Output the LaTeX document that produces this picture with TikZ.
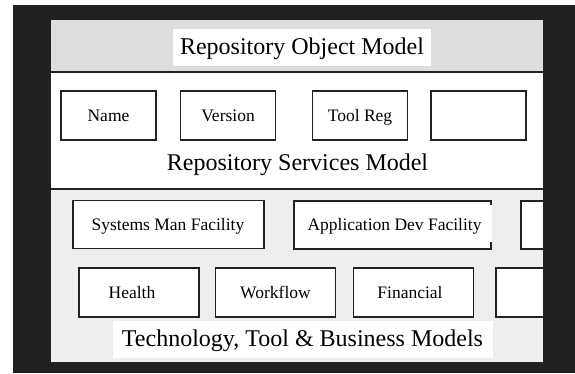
\documentclass[tikz,border=0pt]{standalone}
\usepackage{fontspec}
\setmainfont{Liberation Serif}
\definecolor{framec}{HTML}{202020}
\definecolor{topband}{HTML}{DDDDDD}
\definecolor{botband}{HTML}{EEEEEE}
\definecolor{linec}{HTML}{222222}
\begin{document}
\begin{tikzpicture}[x=1bp,y=-1bp,
  box/.style={draw=linec, line width=1.1bp, fill=white, inner sep=0pt,
    font=\fontsize{17.5bp}{20bp}\selectfont, text height=11.6bp, text depth=0bp},
  bw/.style={minimum width=95bp, minimum height=49bp},
  fw/.style={minimum width=197bp, minimum height=48bp},
  hw/.style={minimum width=120bp, minimum height=49bp},
  wlabel/.style={fill=white, inner sep=0pt},
  bigtext/.style={font=\fontsize{24bp}{28bp}\selectfont, anchor=base, inner sep=0pt},
  smalltext/.style={font=\fontsize{17.5bp}{20bp}\selectfont, anchor=base, inner sep=0pt}]
\useasboundingbox (0,0) rectangle (575,373);
\fill[white] (0,0) rectangle (575,373);
\fill[framec] (13,5) rectangle (575,373);
% bands
\fill[topband] (50,19) rectangle (544,72);
\fill[white] (50,72) rectangle (544,189);
\fill[botband] (50,189) rectangle (544,363);
% title
\node[wlabel, minimum width=258bp, minimum height=37bp] (titlebox) at (302,47.5) {};
\node[bigtext] (title) at (302,54) {Repository Object Model};
% row 1
\node[box,bw] (name) at (108.5,115.5) {Name};
\node[box,bw] (version) at (228,115.5) {Version};
\node[box,bw] (toolreg) at (360,115.5) {Tool Reg};
\node[box,bw] (empty1) at (478.5,115.5) {};
\node[bigtext] (services) at (297.5,170) {Repository Services Model};
% row 2
\begin{scope}
\clip (50,189) rectangle (544,363);
\node[box,fw,minimum width=191bp] (sysman) at (168.5,224.5) {};
\node[smalltext] at (168,230.8) {Systems Man Facility};
\node[box,fw] (appdev) at (392.5,225) {};
\node[wlabel, minimum width=195bp, minimum height=37bp] (appdevlbl) at (394.5,223.5) {};
\node[smalltext] at (394.5,230.8) {Application Dev Facility};
\node[box,fw] (r2c) at (619.5,225) {};
% row 3
\node[box,hw] (health) at (139,292.5) {};
\node[smalltext] at (132,298.3) {Health};
\node[box,hw] (workflow) at (275.5,292.5) {Workflow};
\node[box,hw] (financial) at (413.5,292.5) {};
\node[smalltext] at (410,298.3) {Financial};
\node[box,hw] (r3d) at (556,292.5) {};
\end{scope}
% bottom title
\node[wlabel, minimum width=380bp, minimum height=37bp] (techbox) at (303,339.5) {};
\node[bigtext] (tech) at (302.5,346) {Technology, Tool \& Business Models};
% panel borders
\draw[linec, line width=1.1bp] (50,19) rectangle (544,363);
\draw[linec, line width=1.1bp] (50,72) -- (544,72);
\draw[linec, line width=1.1bp] (50,189) -- (544,189);
\end{tikzpicture}
\end{document}
